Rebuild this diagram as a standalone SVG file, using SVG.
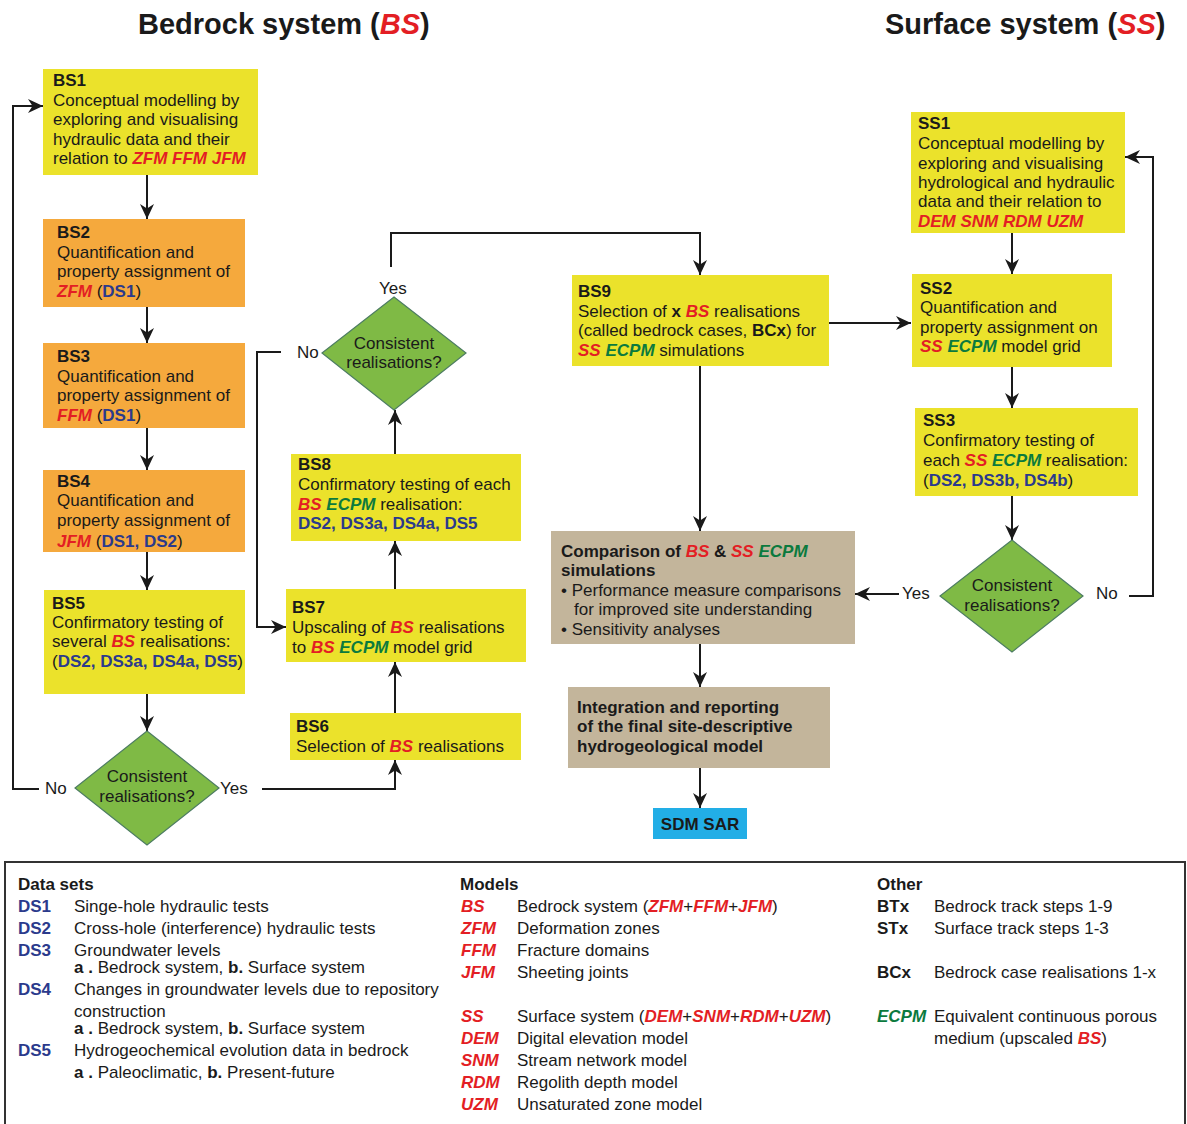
<svg xmlns="http://www.w3.org/2000/svg" width="1187" height="1124" viewBox="0 0 1187 1124">
  <style>
    text { font-family: "Liberation Sans", Arial, Helvetica, sans-serif; font-size: 17px; fill: #1a1a1a; }
    .title { font-size: 29px; font-weight: bold; }
    .b { font-weight: bold; }
    .r { fill: #e31e24; font-weight: bold; font-style: italic; }
    .g { fill: #0b7a3e; font-weight: bold; font-style: italic; }
    .n { fill: #2b3a8c; font-weight: bold; }
    .c { text-anchor: middle; }
    .yel { fill: #ebe22b; }
    .org { fill: #f5a93d; }
    .tan { fill: #c3b59b; }
    .blu { fill: #22aee6; }
    .dia { fill: #7fba45; stroke: #4d7d62; stroke-width: 1.2; }
    .ln { fill: none; stroke: #1a1a1a; stroke-width: 2; }
    .arr { marker-end: url(#ah); }
    .frame { fill: none; stroke: #333; stroke-width: 2; }
  </style>
  <defs>
    <marker id="ah" markerUnits="userSpaceOnUse" markerWidth="16" markerHeight="14" refX="15" refY="7" orient="auto">
      <path d="M0,0 L15,7 L0,14 L4.5,7 Z" fill="#1a1a1a"/>
    </marker>
  </defs>

  <rect width="1187" height="1124" fill="#ffffff"/>

  <!-- headings -->
  <text class="title" x="138" y="34">Bedrock system (<tspan class="r">BS</tspan>)</text>
  <text class="title" x="885" y="34">Surface system (<tspan class="r">SS</tspan>)</text>

  <!-- connectors -->
  <g id="connectors">
    <line class="ln arr" x1="147" y1="175" x2="147" y2="219"/>
    <line class="ln arr" x1="147" y1="307" x2="147" y2="343"/>
    <line class="ln arr" x1="147" y1="428" x2="147" y2="470"/>
    <line class="ln arr" x1="147" y1="552" x2="147" y2="590"/>
    <line class="ln arr" x1="147" y1="694" x2="147" y2="731"/>
    <polyline class="ln arr" points="39,789 13,789 13,106 43,106"/>
    <polyline class="ln arr" points="262,789 395,789 395,760"/>
    <line class="ln arr" x1="395" y1="713" x2="395" y2="662"/>
    <line class="ln arr" x1="395" y1="589" x2="395" y2="541"/>
    <line class="ln arr" x1="395" y1="454" x2="395" y2="410"/>
    <polyline class="ln arr" points="391,267 391,233 700,233 700,275"/>
    <polyline class="ln arr" points="281,352 257,352 257,627 286,627"/>
    <line class="ln arr" x1="829" y1="323" x2="911" y2="323"/>
    <line class="ln arr" x1="700" y1="366" x2="700" y2="531"/>
    <line class="ln arr" x1="1012" y1="233" x2="1012" y2="274"/>
    <line class="ln arr" x1="1012" y1="367" x2="1012" y2="408"/>
    <line class="ln arr" x1="1012" y1="496" x2="1012" y2="540"/>
    <line class="ln arr" x1="899" y1="594" x2="855" y2="594"/>
    <polyline class="ln arr" points="1129,596 1153,596 1153,157 1125,157"/>
    <line class="ln arr" x1="700" y1="644" x2="700" y2="687"/>
    <line class="ln arr" x1="700" y1="768" x2="700" y2="808"/>
    <!-- branch labels -->
    <text x="45" y="794">No</text>
    <text x="220" y="794">Yes</text>
    <text x="379" y="294">Yes</text>
    <text x="297" y="358">No</text>
    <text x="902" y="599">Yes</text>
    <text x="1096" y="599">No</text>
  </g>

  <!-- bedrock track -->
  <g id="BS1">
    <rect class="yel" x="43" y="69" width="215" height="106"/>
    <text x="53" y="86" class="b">BS1</text>
    <text x="53" y="105.5">Conceptual modelling by</text>
    <text x="53" y="125">exploring and visualising</text>
    <text x="53" y="144.5">hydraulic data and their</text>
    <text x="53" y="164">relation to <tspan class="r">ZFM FFM JFM</tspan></text>
  </g>
  <g id="BS2">
    <rect class="org" x="43" y="219" width="202" height="88"/>
    <text x="57" y="238" class="b">BS2</text>
    <text x="57" y="258">Quantification and</text>
    <text x="57" y="277">property assignment of</text>
    <text x="57" y="297"><tspan class="r">ZFM</tspan> (<tspan class="n">DS1</tspan>)</text>
  </g>
  <g id="BS3">
    <rect class="org" x="43" y="343" width="202" height="85"/>
    <text x="57" y="362" class="b">BS3</text>
    <text x="57" y="382">Quantification and</text>
    <text x="57" y="401">property assignment of</text>
    <text x="57" y="421"><tspan class="r">FFM</tspan> (<tspan class="n">DS1</tspan>)</text>
  </g>
  <g id="BS4">
    <rect class="org" x="43" y="470" width="202" height="82"/>
    <text x="57" y="487" class="b">BS4</text>
    <text x="57" y="506">Quantification and</text>
    <text x="57" y="526">property assignment of</text>
    <text x="57" y="547"><tspan class="r">JFM</tspan> (<tspan class="n">DS1, DS2</tspan>)</text>
  </g>
  <g id="BS5">
    <rect class="yel" x="44" y="590" width="201" height="104"/>
    <text x="52" y="609" class="b">BS5</text>
    <text x="52" y="628">Confirmatory testing of</text>
    <text x="52" y="647">several <tspan class="r">BS</tspan> realisations:</text>
    <text x="52" y="667">(<tspan class="n">DS2, DS3a, DS4a, DS5</tspan>)</text>
  </g>
  <g id="D1">
    <polygon class="dia" points="147,731 219,788 147,845 75,788"/>
    <text class="c" x="147" y="782">Consistent</text>
    <text class="c" x="147" y="802">realisations?</text>
  </g>
  <g id="BS6">
    <rect class="yel" x="290" y="713" width="231" height="47"/>
    <text x="296" y="732" class="b">BS6</text>
    <text x="296" y="752">Selection of <tspan class="r">BS</tspan> realisations</text>
  </g>
  <g id="BS7">
    <rect class="yel" x="286" y="589" width="240" height="73"/>
    <text x="292" y="613" class="b">BS7</text>
    <text x="292" y="633">Upscaling of <tspan class="r">BS</tspan> realisations</text>
    <text x="292" y="653">to <tspan class="r">BS</tspan> <tspan class="g">ECPM</tspan> model grid</text>
  </g>
  <g id="BS8">
    <rect class="yel" x="291" y="454" width="230" height="87"/>
    <text x="298" y="470" class="b">BS8</text>
    <text x="298" y="490">Confirmatory testing of each</text>
    <text x="298" y="510"><tspan class="r">BS</tspan> <tspan class="g">ECPM</tspan> realisation:</text>
    <text x="298" y="529" class="n">DS2, DS3a, DS4a, DS5</text>
  </g>
  <g id="D2">
    <polygon class="dia" points="394,297 466,353 394,410 322,353"/>
    <text class="c" x="394" y="349">Consistent</text>
    <text class="c" x="394" y="368">realisations?</text>
  </g>
  <g id="BS9">
    <rect class="yel" x="572" y="275" width="257" height="91"/>
    <text x="578" y="297" class="b">BS9</text>
    <text x="578" y="317">Selection of <tspan class="b">x</tspan> <tspan class="r">BS</tspan> realisations</text>
    <text x="578" y="336">(called bedrock cases, <tspan class="b">BCx</tspan>) for</text>
    <text x="578" y="356"><tspan class="r">SS</tspan> <tspan class="g">ECPM</tspan> simulations</text>
  </g>

  <!-- surface track -->
  <g id="SS1">
    <rect class="yel" x="911" y="112" width="214" height="121"/>
    <text x="918" y="129" class="b">SS1</text>
    <text x="918" y="149">Conceptual modelling by</text>
    <text x="918" y="169">exploring and visualising</text>
    <text x="918" y="188">hydrological and hydraulic</text>
    <text x="918" y="207">data and their relation to</text>
    <text x="918" y="227" class="r">DEM SNM RDM UZM</text>
  </g>
  <g id="SS2">
    <rect class="yel" x="912" y="274" width="200" height="93"/>
    <text x="920" y="294" class="b">SS2</text>
    <text x="920" y="313">Quantification and</text>
    <text x="920" y="333">property assignment on</text>
    <text x="920" y="352"><tspan class="r">SS</tspan> <tspan class="g">ECPM</tspan> model grid</text>
  </g>
  <g id="SS3">
    <rect class="yel" x="915" y="408" width="223" height="88"/>
    <text x="923" y="426" class="b">SS3</text>
    <text x="923" y="446">Confirmatory testing of</text>
    <text x="923" y="466">each <tspan class="r">SS</tspan> <tspan class="g">ECPM</tspan> realisation:</text>
    <text x="923" y="486">(<tspan class="n">DS2, DS3b, DS4b</tspan>)</text>
  </g>
  <g id="D3">
    <polygon class="dia" points="1012,540 1083,596 1012,652 940,596"/>
    <text class="c" x="1012" y="591">Consistent</text>
    <text class="c" x="1012" y="611">realisations?</text>
  </g>

  <!-- joint steps -->
  <g id="comparison">
    <rect class="tan" x="551" y="531" width="304" height="113"/>
    <text x="561" y="557" class="b">Comparison of <tspan class="r">BS</tspan> &amp; <tspan class="r">SS</tspan> <tspan class="g">ECPM</tspan></text>
    <text x="561" y="576" class="b">simulations</text>
    <text x="561" y="596">• Performance measure comparisons</text>
    <text x="574" y="615">for improved site understanding</text>
    <text x="561" y="635">• Sensitivity analyses</text>
  </g>
  <g id="integration">
    <rect class="tan" x="568" y="687" width="262" height="81"/>
    <text x="577" y="713" class="b">Integration and reporting</text>
    <text x="577" y="732" class="b">of the final site-descriptive</text>
    <text x="577" y="752" class="b">hydrogeological model</text>
  </g>
  <g id="SDM">
    <rect class="blu" x="653" y="808" width="94" height="31"/>
    <text class="c b" x="700" y="830">SDM SAR</text>
  </g>

  <!-- key -->
  <g id="legend">
    <rect class="frame" x="5" y="862" width="1180" height="280"/>

    <text x="18" y="890" class="b">Data sets</text>
    <text x="18" y="912" class="n">DS1</text><text x="74" y="912">Singe-hole hydraulic tests</text>
    <text x="18" y="934" class="n">DS2</text><text x="74" y="934">Cross-hole (interference) hydraulic tests</text>
    <text x="18" y="956" class="n">DS3</text><text x="74" y="956">Groundwater levels</text>
    <text x="74" y="973"><tspan class="b">a .</tspan> Bedrock system, <tspan class="b">b.</tspan> Surface system</text>
    <text x="18" y="995" class="n">DS4</text><text x="74" y="995">Changes in groundwater levels due to repository</text>
    <text x="74" y="1017">construction</text>
    <text x="74" y="1034"><tspan class="b">a .</tspan> Bedrock system, <tspan class="b">b.</tspan> Surface system</text>
    <text x="18" y="1056" class="n">DS5</text><text x="74" y="1056">Hydrogeochemical evolution data in bedrock</text>
    <text x="74" y="1078"><tspan class="b">a .</tspan> Paleoclimatic, <tspan class="b">b.</tspan> Present-future</text>

    <text x="460" y="890" class="b">Models</text>
    <text x="461" y="912" class="r">BS</text><text x="517" y="912">Bedrock system (<tspan class="r">ZFM</tspan>+<tspan class="r">FFM</tspan>+<tspan class="r">JFM</tspan>)</text>
    <text x="461" y="934" class="r">ZFM</text><text x="517" y="934">Deformation zones</text>
    <text x="461" y="956" class="r">FFM</text><text x="517" y="956">Fracture domains</text>
    <text x="461" y="978" class="r">JFM</text><text x="517" y="978">Sheeting joints</text>
    <text x="461" y="1022" class="r">SS</text><text x="517" y="1022">Surface system (<tspan class="r">DEM</tspan>+<tspan class="r">SNM</tspan>+<tspan class="r">RDM</tspan>+<tspan class="r">UZM</tspan>)</text>
    <text x="461" y="1044" class="r">DEM</text><text x="517" y="1044">Digital elevation model</text>
    <text x="461" y="1066" class="r">SNM</text><text x="517" y="1066">Stream network model</text>
    <text x="461" y="1088" class="r">RDM</text><text x="517" y="1088">Regolith depth model</text>
    <text x="461" y="1110" class="r">UZM</text><text x="517" y="1110">Unsaturated zone model</text>

    <text x="877" y="890" class="b">Other</text>
    <text x="877" y="912" class="b">BTx</text><text x="934" y="912">Bedrock track steps 1-9</text>
    <text x="877" y="934" class="b">STx</text><text x="934" y="934">Surface track steps 1-3</text>
    <text x="877" y="978" class="b">BCx</text><text x="934" y="978">Bedrock case realisations 1-x</text>
    <text x="877" y="1022" class="g">ECPM</text><text x="934" y="1022">Equivalent continuous porous</text>
    <text x="934" y="1044">medium (upscaled <tspan class="r">BS</tspan>)</text>
  </g>
</svg>
